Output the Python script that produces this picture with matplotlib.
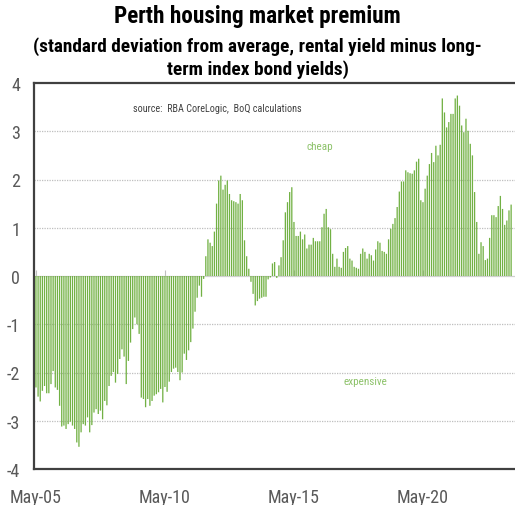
import matplotlib
matplotlib.use('Agg')
import matplotlib.pyplot as plt
from matplotlib import font_manager as fm
import numpy as np

# monthly premium, May-05 onwards (std dev from average)
premium = [
    -2.31, -2.50, -2.60, -2.38, -2.28, -2.43, -2.43, -2.24, -1.97, -2.31,
    -2.36, -2.69, -3.12, -3.10, -3.17, -3.07, -3.02, -3.10, -3.17, -3.45,
    -3.54, -3.24, -3.07, -3.10, -2.93, -3.24, -3.09, -2.83, -2.76, -2.86,
    -2.79, -2.97, -2.59, -2.68, -2.28, -2.07, -1.99, -2.21, -2.03, -1.72,
    -1.52, -1.67, -2.24, -1.76, -1.38, -1.10, -0.86, -1.00, -1.20,
    -2.52, -2.55, -2.72, -2.55, -2.69, -2.59, -2.48, -2.45, -2.41, -2.34, -2.62,
    -2.30, -2.40, -2.19, -1.99, -1.92, -1.90, -1.99, -2.16, -2.00, -1.61,
    -1.74, -1.54, -1.37, -1.09, -0.74, -0.45, -0.20, -0.43, -0.06,
    0.41, 0.76, 0.69, 0.62, 0.92, 1.50, 1.98, 2.08, 1.79, 1.89, 1.98,
    1.70, 1.57, 1.55, 1.53, 1.50, 1.70, 1.57, 0.74, 0.41, 0.15,
    -0.12, -0.37, -0.61, -0.52, -0.47, -0.45, -0.43, -0.43, -0.07, -0.03,
    0.26, 0.29, -0.04, 0.22, 0.39, 0.74, 1.32, 1.53, 1.74, 1.84, 1.12,
    0.83, 0.83, 0.92, 0.76, 0.86, 0.57, 0.65, 0.65, 0.79, 0.72,
    0.72, 0.72, 1.01, 1.29, 1.39, 1.01, 0.97, 0.46, 0.19, 0.36,
    0.19, 0.17, 0.50, 0.58, 0.62, 0.36, 0.32, 0.19, 0.17,
    0.15, 0.46, 0.57, 0.50, 0.36, 0.46, 0.43, 0.32, 0.55, 0.72,
    0.69, 0.52, 0.50, 0.46, 0.76, 0.98, 1.08, 1.20, 1.43, 1.75,
    1.96, 1.96, 2.19, 2.15, 2.13, 2.12, 2.19, 2.37, 2.43, 1.57,
    1.53, 1.81,
    2.08, 2.32, 2.55, 2.36, 2.70, 2.50, 2.72, 3.68, 3.39, 3.08,
    3.19, 3.36, 3.36, 3.68, 3.74, 3.53, 3.12, 2.98, 3.26, 3.01,
    2.74, 2.50, 1.74, 1.12, 0.46, 0.70, 0.62, 0.33, 0.36,
    0.79, 1.26, 1.26, 1.22, 1.45, 1.66, 1.39, 1.06, 1.15, 1.36, 1.48,
]
tick_labels = ['May-05', 'May-10', 'May-15', 'May-20']
tick_months = [0, 60, 120, 180]

# prefer a narrow sans if one is installed
installed = {f.name for f in fm.fontManager.ttflist}
narrow = [n for n in ['Liberation Sans Narrow', 'Arial Narrow', 'Roboto Condensed']
          if n in installed]
if narrow:
    plt.rcParams['font.family'] = [narrow[0], 'DejaVu Sans']
    k = 1.0
else:
    plt.rcParams['font.family'] = ['Liberation Sans', 'DejaVu Sans']
    k = 0.85
grey = '#595959'
green = '#72B144'

fig = plt.figure(figsize=(5.15, 5.06), dpi=100)
ax = fig.add_axes([34 / 515, 36 / 506, 481 / 515, 386 / 506])

x = np.arange(len(premium))
ax.bar(x, premium, width=0.6, color=green, linewidth=0, snap=False, zorder=3)

ax.set_xlim(-0.9, 222.8)
ax.set_ylim(-4, 4)
ax.set_yticks(range(-4, 5))
ax.set_yticklabels([str(v) for v in range(-4, 5)], fontsize=13 * k, color=grey)
for v in [-3, -2, -1, 1, 2, 3]:
    ax.axhline(v, color='#BFBFBF', lw=0.9, ls=(0, (1, 1)), zorder=1)

ax.set_xticks(tick_months)
ax.set_xticklabels(tick_labels, fontsize=13 * k, color=grey)
ax.tick_params(axis='x', length=0, pad=14)
ax.tick_params(axis='y', length=0, pad=10)

# zero axis with its tick marks
sec = ax.secondary_xaxis(0.5)
sec.set_xticks(tick_months)
sec.set_xticklabels([])
sec.tick_params(length=4, color='#BFBFBF', direction='out')
for s in sec.spines.values():
    s.set_color('#D0D0D0')
    s.set_linewidth(0.9)

for s in ['left', 'top', 'bottom']:
    ax.spines[s].set_color('#404040')
    ax.spines[s].set_linewidth(1.6)
ax.spines['right'].set_visible(False)

ax.text(0.205, 0.935, 'source:  RBA CoreLogic,  BoQ calculations', transform=ax.transAxes,
        fontsize=7.3 * k, color='#404040', ha='left', va='center')
ax.text(0.595, 0.836, 'cheap', transform=ax.transAxes, fontsize=8 * k, color='#8DC26A',
        ha='center', va='center')
ax.text(0.69, 0.228, 'expensive', transform=ax.transAxes, fontsize=8 * k, color='#8DC26A',
        ha='center', va='center')

sub = 13.9 if k == 1.0 else 12.0
fig.text(0.5, 1 - 17 / 506, 'Perth housing market premium', fontsize=16.7 * k,
         fontweight='bold', ha='center', va='center')
fig.text(0.5, 1 - 47 / 506, '(standard deviation from average, rental yield minus long-',
         fontsize=sub, fontweight='bold', ha='center', va='center')
fig.text(0.5, 1 - 70 / 506, 'term index bond yields)',
         fontsize=sub, fontweight='bold', ha='center', va='center')

plt.savefig('out.png', dpi=100)
